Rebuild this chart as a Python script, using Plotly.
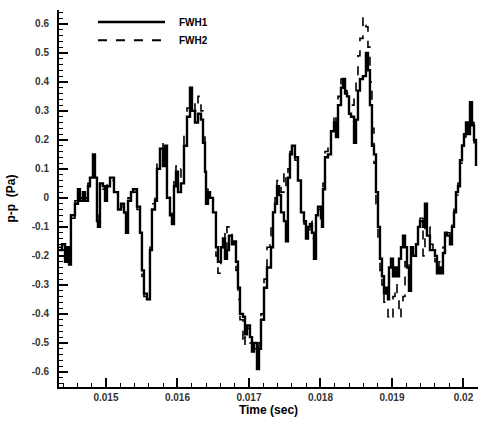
import plotly.graph_objects as go

time_s = [
    0.014329, 0.014385, 0.014427, 0.014455, 0.014483, 0.014510, 0.014566, 0.014608, 0.014636, 0.014678,
    0.014706, 0.014748, 0.014776, 0.014818, 0.014846, 0.014874, 0.014888, 0.014916, 0.014958, 0.014986,
    0.015014, 0.015056, 0.015112, 0.015168, 0.015210, 0.015252, 0.015280, 0.015308, 0.015350, 0.015378,
    0.015434, 0.015476, 0.015503, 0.015531, 0.015573, 0.015615, 0.015643, 0.015685, 0.015713, 0.015755,
    0.015797, 0.015825, 0.015853, 0.015895, 0.015923, 0.015951, 0.015979, 0.016007, 0.016049, 0.016091,
    0.016133, 0.016175, 0.016203, 0.016245, 0.016287, 0.016329, 0.016357, 0.016385, 0.016399, 0.016427,
    0.016455, 0.016497, 0.016538, 0.016566, 0.016608, 0.016636, 0.016664, 0.016692, 0.016720, 0.016762,
    0.016790, 0.016818, 0.016846, 0.016874, 0.016916, 0.016944, 0.016972, 0.017014, 0.017042, 0.017070,
    0.017112, 0.017140, 0.017168, 0.017210, 0.017252, 0.017294, 0.017308, 0.017336, 0.017364, 0.017392,
    0.017420, 0.017448, 0.017489, 0.017517, 0.017545, 0.017573, 0.017601, 0.017643, 0.017685, 0.017727,
    0.017769, 0.017797, 0.017825, 0.017853, 0.017881, 0.017909, 0.017937, 0.017965, 0.018007, 0.018021,
    0.018035, 0.018063, 0.018105, 0.018147, 0.018189, 0.018217, 0.018245, 0.018287, 0.018315, 0.018343,
    0.018371, 0.018399, 0.018427, 0.018469, 0.018497, 0.018524, 0.018552, 0.018594, 0.018636, 0.018664,
    0.018692, 0.018720, 0.018748, 0.018776, 0.018804, 0.018832, 0.018860, 0.018888, 0.018916, 0.018944,
    0.018958, 0.018986, 0.019014, 0.019042, 0.019070, 0.019098, 0.019126, 0.019154, 0.019182, 0.019210,
    0.019238, 0.019266, 0.019294, 0.019336, 0.019364, 0.019392, 0.019434, 0.019461, 0.019489, 0.019531,
    0.019573, 0.019601, 0.019629, 0.019657, 0.019685, 0.019713, 0.019741, 0.019769, 0.019811, 0.019839,
    0.019867, 0.019895, 0.019923, 0.019951, 0.019979, 0.020007, 0.020035, 0.020063, 0.020091, 0.020119,
    0.020147, 0.020175,
]

fwh1 = [
    -0.18, -0.16, -0.22, -0.17, -0.23, -0.06, -0.02, 0.03, -0.01, 0.02,
    -0.01, 0.04, 0.07, 0.15, 0.07, -0.08, -0.10, 0.05, 0.04, -0.01,
    0.04, 0.07, 0.02, -0.04, -0.02, -0.05, -0.12, -0.01, 0.02, 0.03,
    -0.03, -0.12, -0.25, -0.33, -0.35, -0.18, -0.04, -0.01, 0.10, 0.17,
    0.11, 0.18, 0.00, -0.06, -0.09, 0.04, 0.09, 0.02, 0.05, 0.18,
    0.28, 0.38, 0.30, 0.26, 0.29, 0.27, 0.19, 0.09, -0.02, 0.02,
    0.00, -0.05, -0.17, -0.22, -0.17, -0.14, -0.21, -0.18, -0.13, -0.16,
    -0.15, -0.22, -0.31, -0.40, -0.41, -0.47, -0.44, -0.48, -0.53, -0.50,
    -0.59, -0.52, -0.42, -0.31, -0.24, -0.24, -0.17, -0.05, -0.02, 0.04,
    0.01, -0.05, -0.08, -0.15, 0.07, 0.15, 0.18, 0.14, 0.06, -0.05,
    -0.08, -0.14, -0.10, -0.09, -0.12, -0.21, -0.06, -0.03, -0.07, -0.10,
    0.03, 0.14, 0.15, 0.23, 0.26, 0.21, 0.32, 0.38, 0.41, 0.36,
    0.35, 0.29, 0.28, 0.19, 0.27, 0.37, 0.41, 0.42, 0.50, 0.44,
    0.32, 0.18, 0.15, 0.02, -0.10, -0.21, -0.27, -0.33, -0.31, -0.35,
    -0.24, -0.21, -0.27, -0.24, -0.27, -0.21, -0.17, -0.13, -0.17, -0.24,
    -0.32, -0.17, -0.20, -0.16, -0.10, -0.08, -0.10, -0.02, -0.13, -0.18,
    -0.18, -0.20, -0.26, -0.24, -0.26, -0.19, -0.12, -0.13, -0.16, -0.10,
    -0.05, 0.02, 0.04, 0.13, 0.18, 0.22, 0.26, 0.22, 0.33, 0.25,
    0.20, 0.11,
]

fwh2 = [
    -0.17, -0.18, -0.20, -0.19, -0.21, -0.07, -0.01, 0.02, 0.00, 0.02,
    0.00, 0.05, 0.08, 0.13, 0.06, -0.06, -0.09, 0.04, 0.03, 0.00,
    0.05, 0.06, 0.03, -0.03, -0.03, -0.06, -0.10, 0.00, 0.03, 0.02,
    -0.04, -0.14, -0.27, -0.34, -0.33, -0.15, -0.02, 0.02, 0.12, 0.19,
    0.14, 0.16, 0.02, -0.04, -0.07, 0.06, 0.11, 0.05, 0.10, 0.22,
    0.31, 0.36, 0.33, 0.30, 0.35, 0.30, 0.21, 0.09, 0.03, 0.02,
    -0.01, -0.05, -0.20, -0.26, -0.20, -0.12, -0.18, -0.10, -0.12, -0.15,
    -0.17, -0.25, -0.35, -0.42, -0.51, -0.48, -0.45, -0.50, -0.54, -0.52,
    -0.57, -0.50, -0.40, -0.28, -0.17, -0.13, -0.09, -0.03, 0.00, 0.06,
    0.05, 0.02, 0.09, 0.02, 0.10, 0.16, 0.17, 0.13, 0.05, -0.06,
    -0.09, -0.12, -0.11, -0.08, -0.14, -0.18, -0.05, -0.04, -0.06, -0.08,
    0.05, 0.16, 0.18, 0.25, 0.29, 0.25, 0.35, 0.41, 0.40, 0.37,
    0.33, 0.30, 0.32, 0.36, 0.42, 0.49, 0.55, 0.62, 0.59, 0.52,
    0.40, 0.24, 0.12, -0.02, -0.14, -0.25, -0.30, -0.36, -0.38, -0.41,
    -0.40, -0.41, -0.34, -0.30, -0.33, -0.41, -0.36, -0.34, -0.22, -0.21,
    -0.28, -0.19, -0.20, -0.14, -0.09, -0.07, -0.20, -0.05, -0.10, -0.16,
    -0.20, -0.22, -0.25, -0.22, -0.24, -0.17, -0.14, -0.12, -0.14, -0.09,
    -0.03, 0.01, 0.05, 0.12, 0.19, 0.21, 0.25, 0.24, 0.31, 0.26,
    0.19, 0.12,
]

x_tickvals = [0.015, 0.016, 0.017, 0.018, 0.019, 0.020]
x_ticktext = ["0.015", "0.016", "0.017", "0.018", "0.019", "0.02"]
y_tickvals = [0.6, 0.5, 0.4, 0.3, 0.2, 0.1, 0.0, -0.1, -0.2, -0.3, -0.4, -0.5, -0.6]
y_ticktext = ["0.6", "0.5", "0.4", "0.3", "0.2", "0.1", "0", "-0.1", "-0.2", "-0.3", "-0.4", "-0.5", "-0.6"]

FONT = "Liberation Sans, Arial, sans-serif"

fig = go.Figure()
fig.add_trace(go.Scatter(x=time_s, y=fwh2, mode="lines", name="FWH2",
                         line=dict(color="black", width=1.6, dash="dash", shape="hv")))
fig.add_trace(go.Scatter(x=time_s, y=fwh1, mode="lines", name="FWH1",
                         line=dict(color="black", width=2.4, shape="hv")))

# legend drawn manually (long line samples like the reference)
fig.add_shape(type="line", xref="paper", yref="paper", x0=0.093, x1=0.253, y0=0.968, y1=0.968,
              line=dict(color="black", width=2.5))
fig.add_shape(type="line", xref="paper", yref="paper", x0=0.093, x1=0.245, y0=0.920, y1=0.920,
              line=dict(color="black", width=2, dash="dash"))
fig.add_annotation(xref="paper", yref="paper", x=0.282, y=0.968, text="FWH1", showarrow=False,
                   xanchor="left", yanchor="middle",
                   font=dict(family=FONT, size=10, color="black", weight="bold"))
fig.add_annotation(xref="paper", yref="paper", x=0.282, y=0.920, text="FWH2", showarrow=False,
                   xanchor="left", yanchor="middle",
                   font=dict(family=FONT, size=10, color="black", weight="bold"))

fig.update_layout(
    width=478, height=423,
    margin=dict(l=59, r=0, t=10, b=36),
    paper_bgcolor="white", plot_bgcolor="white",
    showlegend=False,
    font=dict(family=FONT, color="black"),
)
fig.update_xaxes(
    range=[0.014343, 0.020203],
    tickvals=x_tickvals, ticktext=x_ticktext,
    ticks="inside", ticklen=9, tickwidth=2, tickcolor="black",
    minor=dict(ticks="inside", ticklen=4, tickwidth=1, tickcolor="black", dtick=0.0002),
    showline=True, linecolor="black", linewidth=2, mirror=False,
    showgrid=False, zeroline=False,
    tickfont=dict(family=FONT, size=10, color="#333", weight="bold"),
    title=dict(text="Time (sec)", standoff=0,
               font=dict(family=FONT, size=12, color="black", weight="bold")),
)
fig.update_yaxes(
    range=[-0.652, 0.648],
    tickvals=y_tickvals, ticktext=y_ticktext,
    ticks="inside", ticklen=9, tickwidth=2, tickcolor="black",
    minor=dict(ticks="inside", ticklen=4, tickwidth=1, tickcolor="black", dtick=0.02),
    showline=True, linecolor="black", linewidth=2, mirror=False,
    showgrid=False, zeroline=False,
    ticklabelstandoff=6,
    tickfont=dict(family=FONT, size=10, color="#333", weight="bold"),
    title=dict(text="p-p  (Pa)", standoff=14,
               font=dict(family=FONT, size=12, color="black", weight="bold")),
)

fig.write_html("out.html")
